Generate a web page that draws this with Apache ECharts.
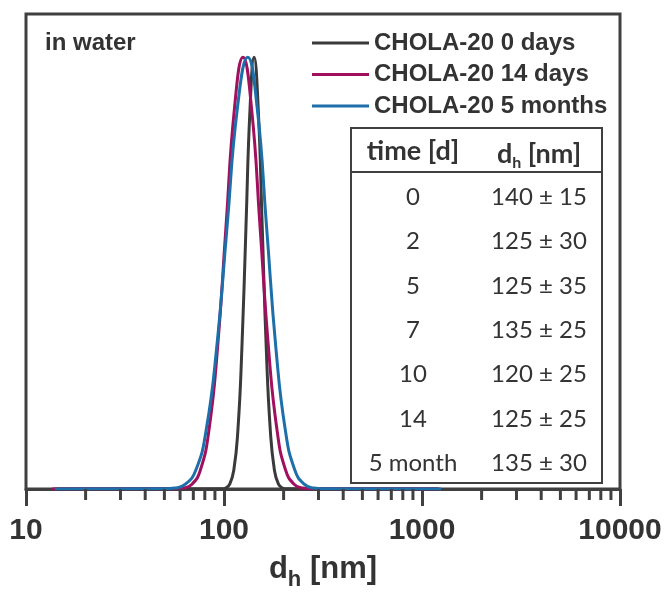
<!DOCTYPE html>
<html>
<head>
<meta charset="utf-8">
<script src="https://cdn.jsdelivr.net/npm/echarts@6/dist/echarts.min.js"></script>
<style>html,body{margin:0;padding:0;background:#fff}#c{width:667px;height:596px}</style>
</head>
<body>
<div id="c"></div>
<script>
// ---- data ----
const seriesNames = ['CHOLA-20 0 days', 'CHOLA-20 14 days', 'CHOLA-20 5 months'];
// hydrodynamic diameter (nm) sample points
const d0 = [14, 97.3, 102.0, 106.9, 112.1, 117.5, 123.1, 129.1, 135.4, 141.9, 148.8, 156.0, 163.5, 171.4, 179.7, 188.4, 197.5, 207.0, 1200];
const y0 = [0, 0.0003, 0.0022, 0.0111, 0.0439, 0.1353, 0.3247, 0.6065, 0.8825, 1.0, 0.8825, 0.6065, 0.3247, 0.1353, 0.0439, 0.0111, 0.0022, 0.0003, 0];
const d14 = [13.5, 56.5, 62.4, 68.9, 76.0, 83.9, 92.7, 102.3, 113.0, 124.7, 137.7, 152.1, 167.9, 185.4, 204.6, 225.9, 249.5, 275.4, 1220];
const y14 = [0, 0.0003, 0.0022, 0.0111, 0.0439, 0.1353, 0.3247, 0.6065, 0.8825, 1.0, 0.8825, 0.6065, 0.3247, 0.1353, 0.0439, 0.0111, 0.0022, 0.0003, 0];
const d5m = [14, 50.2, 56.5, 63.8, 72.1, 81.2, 91.7, 103.6, 116.9, 131.8, 147.1, 164.1, 183.0, 204.2, 227.8, 254.1, 283.5, 316.2, 1250];
const y5m = [0, 0.0003, 0.0022, 0.0111, 0.0439, 0.1353, 0.3247, 0.6065, 0.8825, 1.0, 0.8825, 0.6065, 0.3247, 0.1353, 0.0439, 0.0111, 0.0022, 0.0003, 0];
// axis ticks
const majorTicks = [10, 100, 1000, 10000];
const minorTicks = [20, 30, 40, 50, 60, 70, 80, 90, 200, 300, 400, 500, 600, 700, 800, 900, 2000, 3000, 4000, 5000, 6000, 7000, 8000, 9000];
// table
const tableTimes = ['0', '2', '5', '7', '10', '14', '5 month'];
const tableDh = ['140 ± 15', '125 ± 30', '125 ± 35', '135 ± 25', '120 ± 25', '125 ± 25', '135 ± 30'];

const colors = ['#3a3a3a', '#a0105e', '#1d6fa9'];
const axisColor = '#404040';
const textColor = '#333333';
const sans = '"Liberation Sans", Arial, sans-serif';

function pairs(xs, ys) { return xs.map((x, i) => [x, ys[i]]); }

const chart = echarts.init(document.getElementById('c'), null, {renderer: 'canvas'});

// table graphics
const tbl = {x: 351, y: 128, w: 251, h: 355, headerLine: 172, col1: 413, col2: 539, headY: 151, rowY0: 197, rowStep: 44.4};
const tableEls = [
  {type: 'rect', shape: {x: tbl.x, y: tbl.y, width: tbl.w, height: tbl.h}, style: {fill: '#fff', stroke: axisColor, lineWidth: 2}, z: 100},
  {type: 'line', shape: {x1: tbl.x, y1: tbl.headerLine, x2: tbl.x + tbl.w, y2: tbl.headerLine}, style: {stroke: axisColor, lineWidth: 2}, z: 101},
  {type: 'text', x: tbl.col1, y: tbl.headY, style: {text: 'time [d]', font: 'bold 27px Lato', fill: textColor, align: 'center', verticalAlign: 'middle'}, z: 101},
  {type: 'text', x: tbl.col2, y: tbl.headY + 4, style: {
    text: '{a|d}{b|h}{a| [nm]}', align: 'center', verticalAlign: 'middle', fill: textColor,
    rich: {a: {font: 'bold 27px Lato', fill: textColor, lineHeight: 28, verticalAlign: 'top'},
           b: {font: 'bold 16px Lato', fill: textColor, lineHeight: 16, padding: [15, 0, 0, 0]}}
  }, z: 101}
];
tableTimes.forEach((t, i) => {
  const y = tbl.rowY0 + i * tbl.rowStep;
  tableEls.push({type: 'text', x: tbl.col1, y: y, style: {text: t, font: '24px Lato', fill: textColor, align: 'center', verticalAlign: 'middle'}, z: 101});
  tableEls.push({type: 'text', x: tbl.col2, y: y, style: {text: tableDh[i], font: '24px Lato', fill: textColor, align: 'center', verticalAlign: 'middle'}, z: 101});
});
tableEls.push({type: 'text', x: 45, y: 43, style: {text: 'in water', font: 'bold 24px "Liberation Sans"', fill: textColor, align: 'left', verticalAlign: 'middle'}, z: 101});

const lineSeries = [[d0, y0], [d14, y14], [d5m, y5m]].map((p, i) => ({
  name: seriesNames[i],
  type: 'line',
  data: pairs(p[0], p[1]),
  smooth: 0.5,
  showSymbol: false,
  symbol: 'none',
  color: colors[i],
  lineStyle: {width: 3, color: colors[i]},
  z: 3 + i
}));

chart.setOption({
  animation: false,
  backgroundColor: '#fff',
  textStyle: {fontFamily: sans},
  grid: {left: 26, right: 47, top: 14, bottom: 101, show: true, borderColor: axisColor, borderWidth: 3, backgroundColor: 'transparent', containLabel: false},
  legend: {
    data: seriesNames, orient: 'vertical', left: 312, top: 31, padding: 0,
    icon: 'rect', itemWidth: 57, itemHeight: 3, itemGap: 7.5, selectedMode: false,
    textStyle: {fontSize: 24, fontWeight: 'bold', color: textColor, lineHeight: 24, fontFamily: sans}
  },
  xAxis: {
    type: 'log', logBase: 10, min: majorTicks[0], max: majorTicks[majorTicks.length - 1],
    splitLine: {show: false},
    axisLine: {show: true, lineStyle: {color: axisColor, width: 3}},
    axisTick: {show: true, inside: false, length: 17, lineStyle: {color: axisColor, width: 3}},
    minorTick: {show: false},
    axisLabel: {show: true, margin: 27, fontSize: 30, fontWeight: 'bold', color: textColor, fontFamily: sans,
      formatter: v => String(Math.round(v))},
    name: '{a|d}{b|h}{a| [nm]}', nameLocation: 'middle', nameGap: 65,
    nameTextStyle: {color: textColor, rich: {
      a: {fontSize: 31, fontWeight: 'bold', color: textColor, lineHeight: 34, verticalAlign: 'top', fontFamily: sans},
      b: {fontSize: 22, fontWeight: 'bold', color: textColor, lineHeight: 22, padding: [18, 0, 0, 0], fontFamily: sans}
    }}
  },
  yAxis: {type: 'value', min: 0, max: 1.1, show: false},
  series: lineSeries.concat([{
    type: 'custom',
    name: 'minorTicks',
    clip: false,
    silent: true,
    z: 10,
    data: minorTicks.map(v => [v, 0]),
    encode: {x: 0, y: 1},
    renderItem: function (params, api) {
      const p = api.coord([api.value(0), 0]);
      return {type: 'line', shape: {x1: p[0], y1: p[1], x2: p[0], y2: p[1] + 11}, style: {stroke: axisColor, lineWidth: 3}};
    }
  }]),
  graphic: tableEls
});
</script>
</body>
</html>
